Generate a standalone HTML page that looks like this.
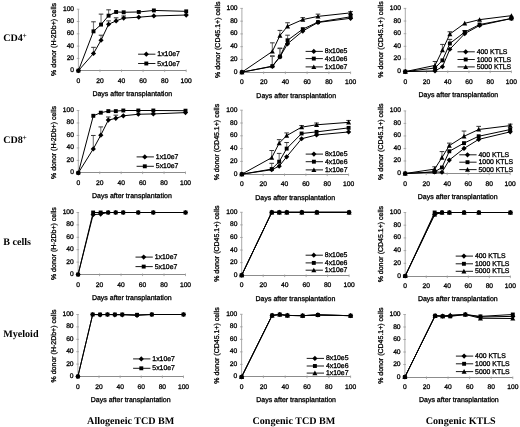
<!DOCTYPE html>
<html><head><meta charset="utf-8"><style>
html,body{margin:0;padding:0;background:#fff;width:520px;height:427px;overflow:hidden}
svg{display:block;text-rendering:geometricPrecision;filter:grayscale(1) blur(0.4px)}
.t{font-family:"Liberation Sans", sans-serif;font-size:6.7px;fill:#000;stroke:#000;stroke-width:0.3px}
.xl{font-family:"Liberation Sans", sans-serif;font-size:7px;fill:#000;stroke:#000;stroke-width:0.3px}
.lg{font-family:"Liberation Sans", sans-serif;font-size:6.9px;fill:#000;stroke:#000;stroke-width:0.3px}
.rl{font-family:"Liberation Serif", serif;font-size:10.1px;font-weight:bold;fill:#000}
</style></head><body>
<svg width="520" height="427" viewBox="0 0 520 427">
<rect width="520" height="427" fill="#fff"/>
<g><line x1="78.40" y1="9.20" x2="78.40" y2="70.70" stroke="#a2a2a2" stroke-width="0.9"/><line x1="78.40" y1="70.50" x2="186.20" y2="70.50" stroke="#8c8c8c" stroke-width="1.0"/><line x1="76.80" y1="70.70" x2="79.40" y2="70.70" stroke="#999" stroke-width="0.8"/><text x="74.10" y="72.20" text-anchor="end" class="t">0</text><line x1="76.80" y1="58.40" x2="79.40" y2="58.40" stroke="#999" stroke-width="0.8"/><text x="74.10" y="59.90" text-anchor="end" class="t">20</text><line x1="76.80" y1="46.10" x2="79.40" y2="46.10" stroke="#999" stroke-width="0.8"/><text x="74.10" y="47.60" text-anchor="end" class="t">40</text><line x1="76.80" y1="33.80" x2="79.40" y2="33.80" stroke="#999" stroke-width="0.8"/><text x="74.10" y="35.30" text-anchor="end" class="t">60</text><line x1="76.80" y1="21.50" x2="79.40" y2="21.50" stroke="#999" stroke-width="0.8"/><text x="74.10" y="23.00" text-anchor="end" class="t">80</text><line x1="76.80" y1="9.20" x2="79.40" y2="9.20" stroke="#999" stroke-width="0.8"/><text x="74.10" y="10.70" text-anchor="end" class="t">100</text><line x1="78.40" y1="69.50" x2="78.40" y2="72.10" stroke="#999" stroke-width="0.8"/><text x="78.40" y="82.80" text-anchor="middle" class="t">0</text><line x1="99.96" y1="69.50" x2="99.96" y2="72.10" stroke="#999" stroke-width="0.8"/><text x="99.96" y="82.80" text-anchor="middle" class="t">20</text><line x1="121.52" y1="69.50" x2="121.52" y2="72.10" stroke="#999" stroke-width="0.8"/><text x="121.52" y="82.80" text-anchor="middle" class="t">40</text><line x1="143.08" y1="69.50" x2="143.08" y2="72.10" stroke="#999" stroke-width="0.8"/><text x="143.08" y="82.80" text-anchor="middle" class="t">60</text><line x1="164.64" y1="69.50" x2="164.64" y2="72.10" stroke="#999" stroke-width="0.8"/><text x="164.64" y="82.80" text-anchor="middle" class="t">80</text><line x1="186.20" y1="69.50" x2="186.20" y2="72.10" stroke="#999" stroke-width="0.8"/><text x="186.20" y="82.80" text-anchor="middle" class="t">100</text><text x="132.30" y="96.10" text-anchor="middle" class="xl">Days after transplantation</text><text transform="translate(56.00,39.45) rotate(-90)" text-anchor="middle" class="xl">% donor (H-2Db+) cells</text><line x1="93.49" y1="53.48" x2="93.49" y2="47.33" stroke="#7a7a7a" stroke-width="1.15"/><line x1="91.19" y1="47.33" x2="95.79" y2="47.33" stroke="#333" stroke-width="1.0"/><line x1="101.04" y1="40.26" x2="101.04" y2="35.21" stroke="#7a7a7a" stroke-width="1.15"/><line x1="98.74" y1="35.21" x2="103.34" y2="35.21" stroke="#333" stroke-width="1.0"/><line x1="108.58" y1="24.27" x2="108.58" y2="20.89" stroke="#7a7a7a" stroke-width="1.15"/><line x1="106.28" y1="20.89" x2="110.88" y2="20.89" stroke="#333" stroke-width="1.0"/><line x1="116.13" y1="20.89" x2="116.13" y2="17.81" stroke="#7a7a7a" stroke-width="1.15"/><line x1="113.83" y1="17.81" x2="118.43" y2="17.81" stroke="#333" stroke-width="1.0"/><line x1="123.68" y1="18.12" x2="123.68" y2="15.97" stroke="#7a7a7a" stroke-width="1.15"/><line x1="121.38" y1="15.97" x2="125.98" y2="15.97" stroke="#333" stroke-width="1.0"/><polyline points="78.40,70.70 93.49,53.48 101.04,40.26 108.58,24.27 116.13,20.89 123.68,18.12 138.77,17.20 153.86,15.97 186.20,15.04" fill="none" stroke="#000" stroke-width="1.0"/><path d="M78.40 68.10L81.00 70.70L78.40 73.30L75.80 70.70Z" fill="#000"/><path d="M93.49 50.88L96.09 53.48L93.49 56.08L90.89 53.48Z" fill="#000"/><path d="M101.04 37.66L103.64 40.26L101.04 42.86L98.44 40.26Z" fill="#000"/><path d="M108.58 21.67L111.18 24.27L108.58 26.87L105.98 24.27Z" fill="#000"/><path d="M116.13 18.29L118.73 20.89L116.13 23.49L113.53 20.89Z" fill="#000"/><path d="M123.68 15.52L126.28 18.12L123.68 20.72L121.08 18.12Z" fill="#000"/><path d="M138.77 14.60L141.37 17.20L138.77 19.80L136.17 17.20Z" fill="#000"/><path d="M153.86 13.37L156.46 15.97L153.86 18.57L151.26 15.97Z" fill="#000"/><path d="M186.20 12.44L188.80 15.04L186.20 17.64L183.60 15.04Z" fill="#000"/><line x1="93.49" y1="31.34" x2="93.49" y2="21.81" stroke="#7a7a7a" stroke-width="1.15"/><line x1="91.19" y1="21.81" x2="95.79" y2="21.81" stroke="#333" stroke-width="1.0"/><line x1="101.04" y1="24.58" x2="101.04" y2="14.12" stroke="#7a7a7a" stroke-width="1.15"/><line x1="98.74" y1="14.12" x2="103.34" y2="14.12" stroke="#333" stroke-width="1.0"/><line x1="108.58" y1="15.66" x2="108.58" y2="9.82" stroke="#7a7a7a" stroke-width="1.15"/><line x1="106.28" y1="9.82" x2="110.88" y2="9.82" stroke="#333" stroke-width="1.0"/><polyline points="78.40,70.70 93.49,31.34 101.04,24.58 108.58,15.66 116.13,11.97 123.68,12.28 138.77,11.97 153.86,10.43 186.20,11.35" fill="none" stroke="#000" stroke-width="1.0"/><rect x="76.45" y="68.75" width="3.90" height="3.90" fill="#000"/><rect x="91.54" y="29.39" width="3.90" height="3.90" fill="#000"/><rect x="99.09" y="22.63" width="3.90" height="3.90" fill="#000"/><rect x="106.63" y="13.71" width="3.90" height="3.90" fill="#000"/><rect x="114.18" y="10.02" width="3.90" height="3.90" fill="#000"/><rect x="121.73" y="10.33" width="3.90" height="3.90" fill="#000"/><rect x="136.82" y="10.02" width="3.90" height="3.90" fill="#000"/><rect x="151.91" y="8.48" width="3.90" height="3.90" fill="#000"/><rect x="184.25" y="9.40" width="3.90" height="3.90" fill="#000"/><line x1="138.10" y1="54.20" x2="155.40" y2="54.20" stroke="#000" stroke-width="0.9"/><path d="M146.30 51.60L148.90 54.20L146.30 56.80L143.70 54.20Z" fill="#000"/><text x="157.30" y="56.20" class="lg">1x10e7</text><line x1="138.10" y1="63.50" x2="155.40" y2="63.50" stroke="#000" stroke-width="0.9"/><rect x="144.35" y="61.55" width="3.90" height="3.90" fill="#000"/><text x="157.30" y="65.50" class="lg">5x10e7</text></g>
<g><line x1="78.30" y1="110.50" x2="78.30" y2="172.90" stroke="#a2a2a2" stroke-width="0.9"/><line x1="78.30" y1="172.50" x2="185.50" y2="172.50" stroke="#8c8c8c" stroke-width="1.0"/><line x1="76.70" y1="172.90" x2="79.30" y2="172.90" stroke="#999" stroke-width="0.8"/><text x="74.00" y="174.40" text-anchor="end" class="t">0</text><line x1="76.70" y1="160.42" x2="79.30" y2="160.42" stroke="#999" stroke-width="0.8"/><text x="74.00" y="161.92" text-anchor="end" class="t">20</text><line x1="76.70" y1="147.94" x2="79.30" y2="147.94" stroke="#999" stroke-width="0.8"/><text x="74.00" y="149.44" text-anchor="end" class="t">40</text><line x1="76.70" y1="135.46" x2="79.30" y2="135.46" stroke="#999" stroke-width="0.8"/><text x="74.00" y="136.96" text-anchor="end" class="t">60</text><line x1="76.70" y1="122.98" x2="79.30" y2="122.98" stroke="#999" stroke-width="0.8"/><text x="74.00" y="124.48" text-anchor="end" class="t">80</text><line x1="76.70" y1="110.50" x2="79.30" y2="110.50" stroke="#999" stroke-width="0.8"/><text x="74.00" y="112.00" text-anchor="end" class="t">100</text><line x1="78.30" y1="171.50" x2="78.30" y2="174.10" stroke="#999" stroke-width="0.8"/><text x="78.30" y="185.00" text-anchor="middle" class="t">0</text><line x1="99.74" y1="171.50" x2="99.74" y2="174.10" stroke="#999" stroke-width="0.8"/><text x="99.74" y="185.00" text-anchor="middle" class="t">20</text><line x1="121.18" y1="171.50" x2="121.18" y2="174.10" stroke="#999" stroke-width="0.8"/><text x="121.18" y="185.00" text-anchor="middle" class="t">40</text><line x1="142.62" y1="171.50" x2="142.62" y2="174.10" stroke="#999" stroke-width="0.8"/><text x="142.62" y="185.00" text-anchor="middle" class="t">60</text><line x1="164.06" y1="171.50" x2="164.06" y2="174.10" stroke="#999" stroke-width="0.8"/><text x="164.06" y="185.00" text-anchor="middle" class="t">80</text><line x1="185.50" y1="171.50" x2="185.50" y2="174.10" stroke="#999" stroke-width="0.8"/><text x="185.50" y="185.00" text-anchor="middle" class="t">100</text><text x="131.90" y="198.30" text-anchor="middle" class="xl">Days after transplantation</text><text transform="translate(55.90,142.50) rotate(-90)" text-anchor="middle" class="xl">% donor (H-2Db+) cells</text><line x1="93.31" y1="148.88" x2="93.31" y2="135.46" stroke="#7a7a7a" stroke-width="1.15"/><line x1="91.01" y1="135.46" x2="95.61" y2="135.46" stroke="#333" stroke-width="1.0"/><line x1="100.81" y1="135.15" x2="100.81" y2="126.91" stroke="#7a7a7a" stroke-width="1.15"/><line x1="98.51" y1="126.91" x2="103.11" y2="126.91" stroke="#333" stroke-width="1.0"/><line x1="108.32" y1="120.11" x2="108.32" y2="116.99" stroke="#7a7a7a" stroke-width="1.15"/><line x1="106.02" y1="116.99" x2="110.62" y2="116.99" stroke="#333" stroke-width="1.0"/><line x1="115.82" y1="118.30" x2="115.82" y2="115.18" stroke="#7a7a7a" stroke-width="1.15"/><line x1="113.52" y1="115.18" x2="118.12" y2="115.18" stroke="#333" stroke-width="1.0"/><polyline points="78.30,172.90 93.31,148.88 100.81,135.15 108.32,120.11 115.82,118.30 123.32,115.80 138.33,114.24 153.34,113.93 185.50,112.62" fill="none" stroke="#000" stroke-width="1.0"/><path d="M78.30 170.30L80.90 172.90L78.30 175.50L75.70 172.90Z" fill="#000"/><path d="M93.31 146.28L95.91 148.88L93.31 151.48L90.71 148.88Z" fill="#000"/><path d="M100.81 132.55L103.41 135.15L100.81 137.75L98.21 135.15Z" fill="#000"/><path d="M108.32 117.51L110.92 120.11L108.32 122.71L105.72 120.11Z" fill="#000"/><path d="M115.82 115.70L118.42 118.30L115.82 120.90L113.22 118.30Z" fill="#000"/><path d="M123.32 113.20L125.92 115.80L123.32 118.40L120.72 115.80Z" fill="#000"/><path d="M138.33 111.64L140.93 114.24L138.33 116.84L135.73 114.24Z" fill="#000"/><path d="M153.34 111.33L155.94 113.93L153.34 116.53L150.74 113.93Z" fill="#000"/><path d="M185.50 110.02L188.10 112.62L185.50 115.22L182.90 112.62Z" fill="#000"/><polyline points="78.30,172.90 93.31,115.80 100.81,112.68 108.32,111.12 115.82,111.12 123.32,110.50 138.33,110.50 153.34,110.50 185.50,110.69" fill="none" stroke="#000" stroke-width="1.0"/><rect x="76.35" y="170.95" width="3.90" height="3.90" fill="#000"/><rect x="91.36" y="113.85" width="3.90" height="3.90" fill="#000"/><rect x="98.86" y="110.73" width="3.90" height="3.90" fill="#000"/><rect x="106.37" y="109.17" width="3.90" height="3.90" fill="#000"/><rect x="113.87" y="109.17" width="3.90" height="3.90" fill="#000"/><rect x="121.37" y="108.55" width="3.90" height="3.90" fill="#000"/><rect x="136.38" y="108.55" width="3.90" height="3.90" fill="#000"/><rect x="151.39" y="108.55" width="3.90" height="3.90" fill="#000"/><rect x="183.55" y="108.74" width="3.90" height="3.90" fill="#000"/><line x1="136.60" y1="156.90" x2="153.90" y2="156.90" stroke="#000" stroke-width="0.9"/><path d="M144.80 154.30L147.40 156.90L144.80 159.50L142.20 156.90Z" fill="#000"/><text x="155.80" y="158.90" class="lg">1x10e7</text><line x1="136.60" y1="166.30" x2="153.90" y2="166.30" stroke="#000" stroke-width="0.9"/><rect x="142.85" y="164.35" width="3.90" height="3.90" fill="#000"/><text x="155.80" y="168.30" class="lg">5x10e7</text></g>
<g><line x1="78.10" y1="212.50" x2="78.10" y2="274.50" stroke="#a2a2a2" stroke-width="0.9"/><line x1="78.10" y1="274.50" x2="185.50" y2="274.50" stroke="#8c8c8c" stroke-width="1.0"/><line x1="76.50" y1="274.50" x2="79.10" y2="274.50" stroke="#999" stroke-width="0.8"/><text x="73.80" y="276.00" text-anchor="end" class="t">0</text><line x1="76.50" y1="262.10" x2="79.10" y2="262.10" stroke="#999" stroke-width="0.8"/><text x="73.80" y="263.60" text-anchor="end" class="t">20</text><line x1="76.50" y1="249.70" x2="79.10" y2="249.70" stroke="#999" stroke-width="0.8"/><text x="73.80" y="251.20" text-anchor="end" class="t">40</text><line x1="76.50" y1="237.30" x2="79.10" y2="237.30" stroke="#999" stroke-width="0.8"/><text x="73.80" y="238.80" text-anchor="end" class="t">60</text><line x1="76.50" y1="224.90" x2="79.10" y2="224.90" stroke="#999" stroke-width="0.8"/><text x="73.80" y="226.40" text-anchor="end" class="t">80</text><line x1="76.50" y1="212.50" x2="79.10" y2="212.50" stroke="#999" stroke-width="0.8"/><text x="73.80" y="214.00" text-anchor="end" class="t">100</text><line x1="78.10" y1="273.50" x2="78.10" y2="276.10" stroke="#999" stroke-width="0.8"/><text x="78.10" y="286.60" text-anchor="middle" class="t">0</text><line x1="99.58" y1="273.50" x2="99.58" y2="276.10" stroke="#999" stroke-width="0.8"/><text x="99.58" y="286.60" text-anchor="middle" class="t">20</text><line x1="121.06" y1="273.50" x2="121.06" y2="276.10" stroke="#999" stroke-width="0.8"/><text x="121.06" y="286.60" text-anchor="middle" class="t">40</text><line x1="142.54" y1="273.50" x2="142.54" y2="276.10" stroke="#999" stroke-width="0.8"/><text x="142.54" y="286.60" text-anchor="middle" class="t">60</text><line x1="164.02" y1="273.50" x2="164.02" y2="276.10" stroke="#999" stroke-width="0.8"/><text x="164.02" y="286.60" text-anchor="middle" class="t">80</text><line x1="185.50" y1="273.50" x2="185.50" y2="276.10" stroke="#999" stroke-width="0.8"/><text x="185.50" y="286.60" text-anchor="middle" class="t">100</text><text x="131.80" y="299.90" text-anchor="middle" class="xl">Days after transplantation</text><text transform="translate(55.70,243.60) rotate(-90)" text-anchor="middle" class="xl">% donor (H-2Db+) cells</text><polyline points="78.10,274.50 93.14,214.67 100.65,214.05 108.17,212.50 115.69,212.50 123.21,212.50 138.24,212.50 153.28,212.50 185.50,212.50" fill="none" stroke="#000" stroke-width="1.0"/><path d="M78.10 271.90L80.70 274.50L78.10 277.10L75.50 274.50Z" fill="#000"/><path d="M93.14 212.07L95.74 214.67L93.14 217.27L90.54 214.67Z" fill="#000"/><path d="M100.65 211.45L103.25 214.05L100.65 216.65L98.05 214.05Z" fill="#000"/><path d="M108.17 209.90L110.77 212.50L108.17 215.10L105.57 212.50Z" fill="#000"/><path d="M115.69 209.90L118.29 212.50L115.69 215.10L113.09 212.50Z" fill="#000"/><path d="M123.21 209.90L125.81 212.50L123.21 215.10L120.61 212.50Z" fill="#000"/><path d="M138.24 209.90L140.84 212.50L138.24 215.10L135.64 212.50Z" fill="#000"/><path d="M153.28 209.90L155.88 212.50L153.28 215.10L150.68 212.50Z" fill="#000"/><path d="M185.50 209.90L188.10 212.50L185.50 215.10L182.90 212.50Z" fill="#000"/><polyline points="78.10,274.50 93.14,212.50 100.65,212.50 108.17,212.50 115.69,212.50 123.21,212.50 138.24,212.50 153.28,212.50 185.50,212.50" fill="none" stroke="#000" stroke-width="1.0"/><rect x="76.15" y="272.55" width="3.90" height="3.90" fill="#000"/><rect x="91.19" y="210.55" width="3.90" height="3.90" fill="#000"/><rect x="98.70" y="210.55" width="3.90" height="3.90" fill="#000"/><rect x="106.22" y="210.55" width="3.90" height="3.90" fill="#000"/><rect x="113.74" y="210.55" width="3.90" height="3.90" fill="#000"/><rect x="121.26" y="210.55" width="3.90" height="3.90" fill="#000"/><rect x="136.29" y="210.55" width="3.90" height="3.90" fill="#000"/><rect x="151.33" y="210.55" width="3.90" height="3.90" fill="#000"/><rect x="183.55" y="210.55" width="3.90" height="3.90" fill="#000"/><line x1="135.50" y1="257.10" x2="152.80" y2="257.10" stroke="#000" stroke-width="0.9"/><path d="M143.70 254.50L146.30 257.10L143.70 259.70L141.10 257.10Z" fill="#000"/><text x="154.70" y="259.10" class="lg">1x10e7</text><line x1="135.50" y1="266.60" x2="152.80" y2="266.60" stroke="#000" stroke-width="0.9"/><rect x="141.75" y="264.65" width="3.90" height="3.90" fill="#000"/><text x="154.70" y="268.60" class="lg">5x10e7</text></g>
<g><line x1="77.90" y1="314.50" x2="77.90" y2="376.50" stroke="#a2a2a2" stroke-width="0.9"/><line x1="77.90" y1="376.50" x2="183.50" y2="376.50" stroke="#8c8c8c" stroke-width="1.0"/><line x1="76.30" y1="376.50" x2="78.90" y2="376.50" stroke="#999" stroke-width="0.8"/><text x="73.60" y="378.00" text-anchor="end" class="t">0</text><line x1="76.30" y1="364.10" x2="78.90" y2="364.10" stroke="#999" stroke-width="0.8"/><text x="73.60" y="365.60" text-anchor="end" class="t">20</text><line x1="76.30" y1="351.70" x2="78.90" y2="351.70" stroke="#999" stroke-width="0.8"/><text x="73.60" y="353.20" text-anchor="end" class="t">40</text><line x1="76.30" y1="339.30" x2="78.90" y2="339.30" stroke="#999" stroke-width="0.8"/><text x="73.60" y="340.80" text-anchor="end" class="t">60</text><line x1="76.30" y1="326.90" x2="78.90" y2="326.90" stroke="#999" stroke-width="0.8"/><text x="73.60" y="328.40" text-anchor="end" class="t">80</text><line x1="76.30" y1="314.50" x2="78.90" y2="314.50" stroke="#999" stroke-width="0.8"/><text x="73.60" y="316.00" text-anchor="end" class="t">100</text><line x1="77.90" y1="375.50" x2="77.90" y2="378.10" stroke="#999" stroke-width="0.8"/><text x="77.90" y="388.60" text-anchor="middle" class="t">0</text><line x1="99.02" y1="375.50" x2="99.02" y2="378.10" stroke="#999" stroke-width="0.8"/><text x="99.02" y="388.60" text-anchor="middle" class="t">20</text><line x1="120.14" y1="375.50" x2="120.14" y2="378.10" stroke="#999" stroke-width="0.8"/><text x="120.14" y="388.60" text-anchor="middle" class="t">40</text><line x1="141.26" y1="375.50" x2="141.26" y2="378.10" stroke="#999" stroke-width="0.8"/><text x="141.26" y="388.60" text-anchor="middle" class="t">60</text><line x1="162.38" y1="375.50" x2="162.38" y2="378.10" stroke="#999" stroke-width="0.8"/><text x="162.38" y="388.60" text-anchor="middle" class="t">80</text><line x1="183.50" y1="375.50" x2="183.50" y2="378.10" stroke="#999" stroke-width="0.8"/><text x="183.50" y="388.60" text-anchor="middle" class="t">100</text><text x="130.70" y="401.90" text-anchor="middle" class="xl">Days after transplantation</text><text transform="translate(55.50,346.00) rotate(-90)" text-anchor="middle" class="xl">% donor (H-2Db+) cells</text><polyline points="77.90,376.50 92.68,314.50 100.08,314.81 107.47,314.50 114.86,314.81 122.25,314.81 137.04,315.43 151.82,314.50 183.50,314.50" fill="none" stroke="#000" stroke-width="1.0"/><path d="M77.90 373.90L80.50 376.50L77.90 379.10L75.30 376.50Z" fill="#000"/><path d="M92.68 311.90L95.28 314.50L92.68 317.10L90.08 314.50Z" fill="#000"/><path d="M100.08 312.21L102.68 314.81L100.08 317.41L97.48 314.81Z" fill="#000"/><path d="M107.47 311.90L110.07 314.50L107.47 317.10L104.87 314.50Z" fill="#000"/><path d="M114.86 312.21L117.46 314.81L114.86 317.41L112.26 314.81Z" fill="#000"/><path d="M122.25 312.21L124.85 314.81L122.25 317.41L119.65 314.81Z" fill="#000"/><path d="M137.04 312.83L139.64 315.43L137.04 318.03L134.44 315.43Z" fill="#000"/><path d="M151.82 311.90L154.42 314.50L151.82 317.10L149.22 314.50Z" fill="#000"/><path d="M183.50 311.90L186.10 314.50L183.50 317.10L180.90 314.50Z" fill="#000"/><polyline points="77.90,376.50 92.68,314.50 100.08,314.50 107.47,314.50 114.86,314.50 122.25,314.50 137.04,314.81 151.82,314.50 183.50,314.50" fill="none" stroke="#000" stroke-width="1.0"/><rect x="75.95" y="374.55" width="3.90" height="3.90" fill="#000"/><rect x="90.73" y="312.55" width="3.90" height="3.90" fill="#000"/><rect x="98.13" y="312.55" width="3.90" height="3.90" fill="#000"/><rect x="105.52" y="312.55" width="3.90" height="3.90" fill="#000"/><rect x="112.91" y="312.55" width="3.90" height="3.90" fill="#000"/><rect x="120.30" y="312.55" width="3.90" height="3.90" fill="#000"/><rect x="135.09" y="312.86" width="3.90" height="3.90" fill="#000"/><rect x="149.87" y="312.55" width="3.90" height="3.90" fill="#000"/><rect x="181.55" y="312.55" width="3.90" height="3.90" fill="#000"/><line x1="133.10" y1="358.90" x2="150.40" y2="358.90" stroke="#000" stroke-width="0.9"/><path d="M141.30 356.30L143.90 358.90L141.30 361.50L138.70 358.90Z" fill="#000"/><text x="152.30" y="360.90" class="lg">1x10e7</text><line x1="133.10" y1="368.30" x2="150.40" y2="368.30" stroke="#000" stroke-width="0.9"/><rect x="139.35" y="366.35" width="3.90" height="3.90" fill="#000"/><text x="152.30" y="370.30" class="lg">5x10e7</text></g>
<g><line x1="241.90" y1="8.40" x2="241.90" y2="72.20" stroke="#a2a2a2" stroke-width="0.9"/><line x1="241.90" y1="72.50" x2="350.60" y2="72.50" stroke="#8c8c8c" stroke-width="1.0"/><line x1="240.30" y1="72.20" x2="242.90" y2="72.20" stroke="#999" stroke-width="0.8"/><text x="237.60" y="73.70" text-anchor="end" class="t">0</text><line x1="240.30" y1="59.44" x2="242.90" y2="59.44" stroke="#999" stroke-width="0.8"/><text x="237.60" y="60.94" text-anchor="end" class="t">20</text><line x1="240.30" y1="46.68" x2="242.90" y2="46.68" stroke="#999" stroke-width="0.8"/><text x="237.60" y="48.18" text-anchor="end" class="t">40</text><line x1="240.30" y1="33.92" x2="242.90" y2="33.92" stroke="#999" stroke-width="0.8"/><text x="237.60" y="35.42" text-anchor="end" class="t">60</text><line x1="240.30" y1="21.16" x2="242.90" y2="21.16" stroke="#999" stroke-width="0.8"/><text x="237.60" y="22.66" text-anchor="end" class="t">80</text><line x1="240.30" y1="8.40" x2="242.90" y2="8.40" stroke="#999" stroke-width="0.8"/><text x="237.60" y="9.90" text-anchor="end" class="t">100</text><line x1="241.90" y1="71.50" x2="241.90" y2="74.10" stroke="#999" stroke-width="0.8"/><text x="241.90" y="84.30" text-anchor="middle" class="t">0</text><line x1="263.64" y1="71.50" x2="263.64" y2="74.10" stroke="#999" stroke-width="0.8"/><text x="263.64" y="84.30" text-anchor="middle" class="t">20</text><line x1="285.38" y1="71.50" x2="285.38" y2="74.10" stroke="#999" stroke-width="0.8"/><text x="285.38" y="84.30" text-anchor="middle" class="t">40</text><line x1="307.12" y1="71.50" x2="307.12" y2="74.10" stroke="#999" stroke-width="0.8"/><text x="307.12" y="84.30" text-anchor="middle" class="t">60</text><line x1="328.86" y1="71.50" x2="328.86" y2="74.10" stroke="#999" stroke-width="0.8"/><text x="328.86" y="84.30" text-anchor="middle" class="t">80</text><line x1="350.60" y1="71.50" x2="350.60" y2="74.10" stroke="#999" stroke-width="0.8"/><text x="350.60" y="84.30" text-anchor="middle" class="t">100</text><text x="296.25" y="97.60" text-anchor="middle" class="xl">Days after transplantation</text><text transform="translate(219.50,39.80) rotate(-90)" text-anchor="middle" class="xl">% donor (CD45.1+) cells</text><line x1="272.34" y1="66.46" x2="272.34" y2="56.25" stroke="#7a7a7a" stroke-width="1.15"/><line x1="270.04" y1="56.25" x2="274.64" y2="56.25" stroke="#333" stroke-width="1.0"/><line x1="279.94" y1="56.89" x2="279.94" y2="48.59" stroke="#7a7a7a" stroke-width="1.15"/><line x1="277.64" y1="48.59" x2="282.25" y2="48.59" stroke="#333" stroke-width="1.0"/><polyline points="241.90,72.20 272.34,66.46 279.94,56.89 287.55,43.81 302.77,31.05 317.99,22.44 350.60,18.29" fill="none" stroke="#000" stroke-width="1.0"/><path d="M241.90 69.60L244.50 72.20L241.90 74.80L239.30 72.20Z" fill="#000"/><path d="M272.34 63.86L274.94 66.46L272.34 69.06L269.74 66.46Z" fill="#000"/><path d="M279.94 54.29L282.55 56.89L279.94 59.49L277.34 56.89Z" fill="#000"/><path d="M287.55 41.21L290.15 43.81L287.55 46.41L284.95 43.81Z" fill="#000"/><path d="M302.77 28.45L305.37 31.05L302.77 33.65L300.17 31.05Z" fill="#000"/><path d="M317.99 19.84L320.59 22.44L317.99 25.04L315.39 22.44Z" fill="#000"/><path d="M350.60 15.69L353.20 18.29L350.60 20.89L348.00 18.29Z" fill="#000"/><line x1="272.34" y1="66.14" x2="272.34" y2="55.93" stroke="#7a7a7a" stroke-width="1.15"/><line x1="270.04" y1="55.93" x2="274.64" y2="55.93" stroke="#333" stroke-width="1.0"/><line x1="279.94" y1="56.57" x2="279.94" y2="48.08" stroke="#7a7a7a" stroke-width="1.15"/><line x1="277.64" y1="48.08" x2="282.25" y2="48.08" stroke="#333" stroke-width="1.0"/><line x1="287.55" y1="40.30" x2="287.55" y2="35.20" stroke="#7a7a7a" stroke-width="1.15"/><line x1="285.25" y1="35.20" x2="289.85" y2="35.20" stroke="#333" stroke-width="1.0"/><polyline points="241.90,72.20 272.34,66.14 279.94,56.57 287.55,40.30 302.77,29.14 317.99,22.12 350.60,16.82" fill="none" stroke="#000" stroke-width="1.0"/><rect x="239.95" y="70.25" width="3.90" height="3.90" fill="#000"/><rect x="270.39" y="64.19" width="3.90" height="3.90" fill="#000"/><rect x="278.00" y="54.62" width="3.90" height="3.90" fill="#000"/><rect x="285.60" y="38.35" width="3.90" height="3.90" fill="#000"/><rect x="300.82" y="27.19" width="3.90" height="3.90" fill="#000"/><rect x="316.04" y="20.17" width="3.90" height="3.90" fill="#000"/><rect x="348.65" y="14.87" width="3.90" height="3.90" fill="#000"/><line x1="272.34" y1="51.47" x2="272.34" y2="42.85" stroke="#7a7a7a" stroke-width="1.15"/><line x1="270.04" y1="42.85" x2="274.64" y2="42.85" stroke="#333" stroke-width="1.0"/><line x1="279.94" y1="35.52" x2="279.94" y2="30.41" stroke="#7a7a7a" stroke-width="1.15"/><line x1="277.64" y1="30.41" x2="282.25" y2="30.41" stroke="#333" stroke-width="1.0"/><line x1="287.55" y1="26.26" x2="287.55" y2="22.76" stroke="#7a7a7a" stroke-width="1.15"/><line x1="285.25" y1="22.76" x2="289.85" y2="22.76" stroke="#333" stroke-width="1.0"/><line x1="302.77" y1="19.57" x2="302.77" y2="17.65" stroke="#7a7a7a" stroke-width="1.15"/><line x1="300.47" y1="17.65" x2="305.07" y2="17.65" stroke="#333" stroke-width="1.0"/><line x1="317.99" y1="16.38" x2="317.99" y2="14.14" stroke="#7a7a7a" stroke-width="1.15"/><line x1="315.69" y1="14.14" x2="320.29" y2="14.14" stroke="#333" stroke-width="1.0"/><line x1="350.60" y1="12.87" x2="350.60" y2="11.59" stroke="#7a7a7a" stroke-width="1.15"/><line x1="348.30" y1="11.59" x2="352.90" y2="11.59" stroke="#333" stroke-width="1.0"/><polyline points="241.90,72.20 272.34,51.47 279.94,35.52 287.55,26.26 302.77,19.57 317.99,16.38 350.60,12.87" fill="none" stroke="#000" stroke-width="1.0"/><path d="M241.90 69.70L244.40 74.33L239.40 74.33Z" fill="#000"/><path d="M272.34 48.97L274.84 53.59L269.84 53.59Z" fill="#000"/><path d="M279.94 33.02L282.44 37.64L277.44 37.64Z" fill="#000"/><path d="M287.55 23.76L290.05 28.39L285.05 28.39Z" fill="#000"/><path d="M302.77 17.07L305.27 21.69L300.27 21.69Z" fill="#000"/><path d="M317.99 13.88L320.49 18.50L315.49 18.50Z" fill="#000"/><path d="M350.60 10.37L353.10 14.99L348.10 14.99Z" fill="#000"/><line x1="305.60" y1="51.40" x2="322.90" y2="51.40" stroke="#000" stroke-width="0.9"/><path d="M313.80 48.80L316.40 51.40L313.80 54.00L311.20 51.40Z" fill="#000"/><text x="324.80" y="53.40" class="lg">8x10e5</text><line x1="305.60" y1="58.60" x2="322.90" y2="58.60" stroke="#000" stroke-width="0.9"/><rect x="311.85" y="56.65" width="3.90" height="3.90" fill="#000"/><text x="324.80" y="60.60" class="lg">4x10e6</text><line x1="305.60" y1="66.90" x2="322.90" y2="66.90" stroke="#000" stroke-width="0.9"/><path d="M313.80 64.40L316.30 69.03L311.30 69.03Z" fill="#000"/><text x="324.80" y="68.90" class="lg">1x10e7</text></g>
<g><line x1="241.80" y1="110.20" x2="241.80" y2="174.20" stroke="#a2a2a2" stroke-width="0.9"/><line x1="241.80" y1="174.50" x2="348.60" y2="174.50" stroke="#8c8c8c" stroke-width="1.0"/><line x1="240.20" y1="174.20" x2="242.80" y2="174.20" stroke="#999" stroke-width="0.8"/><text x="237.50" y="175.70" text-anchor="end" class="t">0</text><line x1="240.20" y1="161.40" x2="242.80" y2="161.40" stroke="#999" stroke-width="0.8"/><text x="237.50" y="162.90" text-anchor="end" class="t">20</text><line x1="240.20" y1="148.60" x2="242.80" y2="148.60" stroke="#999" stroke-width="0.8"/><text x="237.50" y="150.10" text-anchor="end" class="t">40</text><line x1="240.20" y1="135.80" x2="242.80" y2="135.80" stroke="#999" stroke-width="0.8"/><text x="237.50" y="137.30" text-anchor="end" class="t">60</text><line x1="240.20" y1="123.00" x2="242.80" y2="123.00" stroke="#999" stroke-width="0.8"/><text x="237.50" y="124.50" text-anchor="end" class="t">80</text><line x1="240.20" y1="110.20" x2="242.80" y2="110.20" stroke="#999" stroke-width="0.8"/><text x="237.50" y="111.70" text-anchor="end" class="t">100</text><line x1="241.80" y1="173.50" x2="241.80" y2="176.10" stroke="#999" stroke-width="0.8"/><text x="241.80" y="186.30" text-anchor="middle" class="t">0</text><line x1="263.16" y1="173.50" x2="263.16" y2="176.10" stroke="#999" stroke-width="0.8"/><text x="263.16" y="186.30" text-anchor="middle" class="t">20</text><line x1="284.52" y1="173.50" x2="284.52" y2="176.10" stroke="#999" stroke-width="0.8"/><text x="284.52" y="186.30" text-anchor="middle" class="t">40</text><line x1="305.88" y1="173.50" x2="305.88" y2="176.10" stroke="#999" stroke-width="0.8"/><text x="305.88" y="186.30" text-anchor="middle" class="t">60</text><line x1="327.24" y1="173.50" x2="327.24" y2="176.10" stroke="#999" stroke-width="0.8"/><text x="327.24" y="186.30" text-anchor="middle" class="t">80</text><line x1="348.60" y1="173.50" x2="348.60" y2="176.10" stroke="#999" stroke-width="0.8"/><text x="348.60" y="186.30" text-anchor="middle" class="t">100</text><text x="295.20" y="199.60" text-anchor="middle" class="xl">Days after transplantation</text><text transform="translate(219.40,142.10) rotate(-90)" text-anchor="middle" class="xl">% donor (CD45.1+) cells</text><polyline points="241.80,174.20 271.70,169.72 279.18,166.14 286.66,156.79 301.61,138.74 316.56,134.97 348.60,131.96" fill="none" stroke="#000" stroke-width="1.0"/><path d="M241.80 171.60L244.40 174.20L241.80 176.80L239.20 174.20Z" fill="#000"/><path d="M271.70 167.12L274.30 169.72L271.70 172.32L269.10 169.72Z" fill="#000"/><path d="M279.18 163.54L281.78 166.14L279.18 168.74L276.58 166.14Z" fill="#000"/><path d="M286.66 154.19L289.26 156.79L286.66 159.39L284.06 156.79Z" fill="#000"/><path d="M301.61 136.14L304.21 138.74L301.61 141.34L299.01 138.74Z" fill="#000"/><path d="M316.56 132.37L319.16 134.97L316.56 137.57L313.96 134.97Z" fill="#000"/><path d="M348.60 129.36L351.20 131.96L348.60 134.56L346.00 131.96Z" fill="#000"/><line x1="271.70" y1="169.08" x2="271.70" y2="163.32" stroke="#7a7a7a" stroke-width="1.15"/><line x1="269.40" y1="163.32" x2="274.00" y2="163.32" stroke="#333" stroke-width="1.0"/><line x1="279.18" y1="161.72" x2="279.18" y2="153.40" stroke="#7a7a7a" stroke-width="1.15"/><line x1="276.88" y1="153.40" x2="281.48" y2="153.40" stroke="#333" stroke-width="1.0"/><line x1="286.66" y1="148.60" x2="286.66" y2="142.52" stroke="#7a7a7a" stroke-width="1.15"/><line x1="284.36" y1="142.52" x2="288.96" y2="142.52" stroke="#333" stroke-width="1.0"/><polyline points="241.80,174.20 271.70,169.08 279.18,161.72 286.66,148.60 301.61,133.50 316.56,131.90 348.60,127.86" fill="none" stroke="#000" stroke-width="1.0"/><rect x="239.85" y="172.25" width="3.90" height="3.90" fill="#000"/><rect x="269.75" y="167.13" width="3.90" height="3.90" fill="#000"/><rect x="277.23" y="159.77" width="3.90" height="3.90" fill="#000"/><rect x="284.71" y="146.65" width="3.90" height="3.90" fill="#000"/><rect x="299.66" y="131.55" width="3.90" height="3.90" fill="#000"/><rect x="314.61" y="129.95" width="3.90" height="3.90" fill="#000"/><rect x="346.65" y="125.91" width="3.90" height="3.90" fill="#000"/><line x1="271.70" y1="157.69" x2="271.70" y2="150.52" stroke="#7a7a7a" stroke-width="1.15"/><line x1="269.40" y1="150.52" x2="274.00" y2="150.52" stroke="#333" stroke-width="1.0"/><line x1="279.18" y1="143.16" x2="279.18" y2="139.64" stroke="#7a7a7a" stroke-width="1.15"/><line x1="276.88" y1="139.64" x2="281.48" y2="139.64" stroke="#333" stroke-width="1.0"/><line x1="286.66" y1="135.61" x2="286.66" y2="132.92" stroke="#7a7a7a" stroke-width="1.15"/><line x1="284.36" y1="132.92" x2="288.96" y2="132.92" stroke="#333" stroke-width="1.0"/><line x1="301.61" y1="127.16" x2="301.61" y2="125.56" stroke="#7a7a7a" stroke-width="1.15"/><line x1="299.31" y1="125.56" x2="303.91" y2="125.56" stroke="#333" stroke-width="1.0"/><line x1="316.56" y1="124.79" x2="316.56" y2="123.00" stroke="#7a7a7a" stroke-width="1.15"/><line x1="314.26" y1="123.00" x2="318.86" y2="123.00" stroke="#333" stroke-width="1.0"/><line x1="348.60" y1="122.36" x2="348.60" y2="120.44" stroke="#7a7a7a" stroke-width="1.15"/><line x1="346.30" y1="120.44" x2="350.90" y2="120.44" stroke="#333" stroke-width="1.0"/><polyline points="241.80,174.20 271.70,157.69 279.18,143.16 286.66,135.61 301.61,127.16 316.56,124.79 348.60,122.36" fill="none" stroke="#000" stroke-width="1.0"/><path d="M241.80 171.70L244.30 176.32L239.30 176.32Z" fill="#000"/><path d="M271.70 155.19L274.20 159.81L269.20 159.81Z" fill="#000"/><path d="M279.18 140.66L281.68 145.28L276.68 145.28Z" fill="#000"/><path d="M286.66 133.11L289.16 137.73L284.16 137.73Z" fill="#000"/><path d="M301.61 124.66L304.11 129.28L299.11 129.28Z" fill="#000"/><path d="M316.56 122.29L319.06 126.92L314.06 126.92Z" fill="#000"/><path d="M348.60 119.86L351.10 124.48L346.10 124.48Z" fill="#000"/><line x1="305.70" y1="154.10" x2="323.00" y2="154.10" stroke="#000" stroke-width="0.9"/><path d="M313.90 151.50L316.50 154.10L313.90 156.70L311.30 154.10Z" fill="#000"/><text x="324.90" y="156.10" class="lg">8x10e5</text><line x1="305.70" y1="161.70" x2="323.00" y2="161.70" stroke="#000" stroke-width="0.9"/><rect x="311.95" y="159.75" width="3.90" height="3.90" fill="#000"/><text x="324.90" y="163.70" class="lg">4x10e6</text><line x1="305.70" y1="169.90" x2="323.00" y2="169.90" stroke="#000" stroke-width="0.9"/><path d="M313.90 167.40L316.40 172.03L311.40 172.03Z" fill="#000"/><text x="324.90" y="171.90" class="lg">1x10e7</text></g>
<g><line x1="241.70" y1="212.30" x2="241.70" y2="275.20" stroke="#a2a2a2" stroke-width="0.9"/><line x1="241.70" y1="275.50" x2="349.10" y2="275.50" stroke="#8c8c8c" stroke-width="1.0"/><line x1="240.10" y1="275.20" x2="242.70" y2="275.20" stroke="#999" stroke-width="0.8"/><text x="237.40" y="276.70" text-anchor="end" class="t">0</text><line x1="240.10" y1="262.62" x2="242.70" y2="262.62" stroke="#999" stroke-width="0.8"/><text x="237.40" y="264.12" text-anchor="end" class="t">20</text><line x1="240.10" y1="250.04" x2="242.70" y2="250.04" stroke="#999" stroke-width="0.8"/><text x="237.40" y="251.54" text-anchor="end" class="t">40</text><line x1="240.10" y1="237.46" x2="242.70" y2="237.46" stroke="#999" stroke-width="0.8"/><text x="237.40" y="238.96" text-anchor="end" class="t">60</text><line x1="240.10" y1="224.88" x2="242.70" y2="224.88" stroke="#999" stroke-width="0.8"/><text x="237.40" y="226.38" text-anchor="end" class="t">80</text><line x1="240.10" y1="212.30" x2="242.70" y2="212.30" stroke="#999" stroke-width="0.8"/><text x="237.40" y="213.80" text-anchor="end" class="t">100</text><line x1="241.70" y1="274.50" x2="241.70" y2="277.10" stroke="#999" stroke-width="0.8"/><text x="241.70" y="287.30" text-anchor="middle" class="t">0</text><line x1="263.18" y1="274.50" x2="263.18" y2="277.10" stroke="#999" stroke-width="0.8"/><text x="263.18" y="287.30" text-anchor="middle" class="t">20</text><line x1="284.66" y1="274.50" x2="284.66" y2="277.10" stroke="#999" stroke-width="0.8"/><text x="284.66" y="287.30" text-anchor="middle" class="t">40</text><line x1="306.14" y1="274.50" x2="306.14" y2="277.10" stroke="#999" stroke-width="0.8"/><text x="306.14" y="287.30" text-anchor="middle" class="t">60</text><line x1="327.62" y1="274.50" x2="327.62" y2="277.10" stroke="#999" stroke-width="0.8"/><text x="327.62" y="287.30" text-anchor="middle" class="t">80</text><line x1="349.10" y1="274.50" x2="349.10" y2="277.10" stroke="#999" stroke-width="0.8"/><text x="349.10" y="287.30" text-anchor="middle" class="t">100</text><text x="295.40" y="300.60" text-anchor="middle" class="xl">Days after transplantation</text><text transform="translate(219.30,243.65) rotate(-90)" text-anchor="middle" class="xl">% donor (CD45.1+) cells</text><polyline points="241.70,275.20 271.77,212.30 279.29,212.30 286.81,212.30 301.84,212.30 316.88,212.30 349.10,212.30" fill="none" stroke="#000" stroke-width="1.0"/><path d="M241.70 272.60L244.30 275.20L241.70 277.80L239.10 275.20Z" fill="#000"/><path d="M271.77 209.70L274.37 212.30L271.77 214.90L269.17 212.30Z" fill="#000"/><path d="M279.29 209.70L281.89 212.30L279.29 214.90L276.69 212.30Z" fill="#000"/><path d="M286.81 209.70L289.41 212.30L286.81 214.90L284.21 212.30Z" fill="#000"/><path d="M301.84 209.70L304.44 212.30L301.84 214.90L299.24 212.30Z" fill="#000"/><path d="M316.88 209.70L319.48 212.30L316.88 214.90L314.28 212.30Z" fill="#000"/><path d="M349.10 209.70L351.70 212.30L349.10 214.90L346.50 212.30Z" fill="#000"/><polyline points="241.70,275.20 271.77,212.30 279.29,212.30 286.81,212.30 301.84,212.30 316.88,212.30 349.10,212.30" fill="none" stroke="#000" stroke-width="1.0"/><rect x="239.75" y="273.25" width="3.90" height="3.90" fill="#000"/><rect x="269.82" y="210.35" width="3.90" height="3.90" fill="#000"/><rect x="277.34" y="210.35" width="3.90" height="3.90" fill="#000"/><rect x="284.86" y="210.35" width="3.90" height="3.90" fill="#000"/><rect x="299.89" y="210.35" width="3.90" height="3.90" fill="#000"/><rect x="314.93" y="210.35" width="3.90" height="3.90" fill="#000"/><rect x="347.15" y="210.35" width="3.90" height="3.90" fill="#000"/><polyline points="241.70,275.20 271.77,212.30 279.29,212.30 286.81,212.30 301.84,212.30 316.88,212.30 349.10,212.30" fill="none" stroke="#000" stroke-width="1.0"/><path d="M241.70 272.70L244.20 277.32L239.20 277.32Z" fill="#000"/><path d="M271.77 209.80L274.27 214.43L269.27 214.43Z" fill="#000"/><path d="M279.29 209.80L281.79 214.43L276.79 214.43Z" fill="#000"/><path d="M286.81 209.80L289.31 214.43L284.31 214.43Z" fill="#000"/><path d="M301.84 209.80L304.34 214.43L299.34 214.43Z" fill="#000"/><path d="M316.88 209.80L319.38 214.43L314.38 214.43Z" fill="#000"/><path d="M349.10 209.80L351.60 214.43L346.60 214.43Z" fill="#000"/><line x1="305.60" y1="255.20" x2="322.90" y2="255.20" stroke="#000" stroke-width="0.9"/><path d="M313.80 252.60L316.40 255.20L313.80 257.80L311.20 255.20Z" fill="#000"/><text x="324.80" y="257.20" class="lg">8x10e5</text><line x1="305.60" y1="262.90" x2="322.90" y2="262.90" stroke="#000" stroke-width="0.9"/><rect x="311.85" y="260.95" width="3.90" height="3.90" fill="#000"/><text x="324.80" y="264.90" class="lg">4x10e6</text><line x1="305.60" y1="270.20" x2="322.90" y2="270.20" stroke="#000" stroke-width="0.9"/><path d="M313.80 267.70L316.30 272.32L311.30 272.32Z" fill="#000"/><text x="324.80" y="272.20" class="lg">1x10e7</text></g>
<g><line x1="241.60" y1="314.30" x2="241.60" y2="376.90" stroke="#a2a2a2" stroke-width="0.9"/><line x1="241.60" y1="376.50" x2="350.60" y2="376.50" stroke="#8c8c8c" stroke-width="1.0"/><line x1="240.00" y1="376.90" x2="242.60" y2="376.90" stroke="#999" stroke-width="0.8"/><text x="237.30" y="378.40" text-anchor="end" class="t">0</text><line x1="240.00" y1="364.38" x2="242.60" y2="364.38" stroke="#999" stroke-width="0.8"/><text x="237.30" y="365.88" text-anchor="end" class="t">20</text><line x1="240.00" y1="351.86" x2="242.60" y2="351.86" stroke="#999" stroke-width="0.8"/><text x="237.30" y="353.36" text-anchor="end" class="t">40</text><line x1="240.00" y1="339.34" x2="242.60" y2="339.34" stroke="#999" stroke-width="0.8"/><text x="237.30" y="340.84" text-anchor="end" class="t">60</text><line x1="240.00" y1="326.82" x2="242.60" y2="326.82" stroke="#999" stroke-width="0.8"/><text x="237.30" y="328.32" text-anchor="end" class="t">80</text><line x1="240.00" y1="314.30" x2="242.60" y2="314.30" stroke="#999" stroke-width="0.8"/><text x="237.30" y="315.80" text-anchor="end" class="t">100</text><line x1="241.60" y1="375.50" x2="241.60" y2="378.10" stroke="#999" stroke-width="0.8"/><text x="241.60" y="389.00" text-anchor="middle" class="t">0</text><line x1="263.40" y1="375.50" x2="263.40" y2="378.10" stroke="#999" stroke-width="0.8"/><text x="263.40" y="389.00" text-anchor="middle" class="t">20</text><line x1="285.20" y1="375.50" x2="285.20" y2="378.10" stroke="#999" stroke-width="0.8"/><text x="285.20" y="389.00" text-anchor="middle" class="t">40</text><line x1="307.00" y1="375.50" x2="307.00" y2="378.10" stroke="#999" stroke-width="0.8"/><text x="307.00" y="389.00" text-anchor="middle" class="t">60</text><line x1="328.80" y1="375.50" x2="328.80" y2="378.10" stroke="#999" stroke-width="0.8"/><text x="328.80" y="389.00" text-anchor="middle" class="t">80</text><line x1="350.60" y1="375.50" x2="350.60" y2="378.10" stroke="#999" stroke-width="0.8"/><text x="350.60" y="389.00" text-anchor="middle" class="t">100</text><text x="296.10" y="402.30" text-anchor="middle" class="xl">Days after transplantation</text><text transform="translate(219.20,345.50) rotate(-90)" text-anchor="middle" class="xl">% donor (CD45.1+) cells</text><polyline points="241.60,376.90 272.12,315.43 279.75,314.49 287.38,315.43 302.64,315.68 317.90,314.93 350.60,315.68" fill="none" stroke="#000" stroke-width="1.0"/><path d="M241.60 374.30L244.20 376.90L241.60 379.50L239.00 376.90Z" fill="#000"/><path d="M272.12 312.83L274.72 315.43L272.12 318.03L269.52 315.43Z" fill="#000"/><path d="M279.75 311.89L282.35 314.49L279.75 317.09L277.15 314.49Z" fill="#000"/><path d="M287.38 312.83L289.98 315.43L287.38 318.03L284.78 315.43Z" fill="#000"/><path d="M302.64 313.08L305.24 315.68L302.64 318.28L300.04 315.68Z" fill="#000"/><path d="M317.90 312.33L320.50 314.93L317.90 317.53L315.30 314.93Z" fill="#000"/><path d="M350.60 313.08L353.20 315.68L350.60 318.28L348.00 315.68Z" fill="#000"/><polyline points="241.60,376.90 272.12,315.43 279.75,314.49 287.38,315.43 302.64,315.68 317.90,314.93 350.60,315.68" fill="none" stroke="#000" stroke-width="1.0"/><rect x="239.65" y="374.95" width="3.90" height="3.90" fill="#000"/><rect x="270.17" y="313.48" width="3.90" height="3.90" fill="#000"/><rect x="277.80" y="312.54" width="3.90" height="3.90" fill="#000"/><rect x="285.43" y="313.48" width="3.90" height="3.90" fill="#000"/><rect x="300.69" y="313.73" width="3.90" height="3.90" fill="#000"/><rect x="315.95" y="312.98" width="3.90" height="3.90" fill="#000"/><rect x="348.65" y="313.73" width="3.90" height="3.90" fill="#000"/><polyline points="241.60,376.90 272.12,315.43 279.75,314.49 287.38,315.43 302.64,315.68 317.90,314.93 350.60,315.68" fill="none" stroke="#000" stroke-width="1.0"/><path d="M241.60 374.40L244.10 379.02L239.10 379.02Z" fill="#000"/><path d="M272.12 312.93L274.62 317.55L269.62 317.55Z" fill="#000"/><path d="M279.75 311.99L282.25 316.61L277.25 316.61Z" fill="#000"/><path d="M287.38 312.93L289.88 317.55L284.88 317.55Z" fill="#000"/><path d="M302.64 313.18L305.14 317.80L300.14 317.80Z" fill="#000"/><path d="M317.90 312.43L320.40 317.05L315.40 317.05Z" fill="#000"/><path d="M350.60 313.18L353.10 317.80L348.10 317.80Z" fill="#000"/><line x1="306.70" y1="358.40" x2="324.00" y2="358.40" stroke="#000" stroke-width="0.9"/><path d="M314.90 355.80L317.50 358.40L314.90 361.00L312.30 358.40Z" fill="#000"/><text x="325.90" y="360.40" class="lg">8x10e5</text><line x1="306.70" y1="366.00" x2="324.00" y2="366.00" stroke="#000" stroke-width="0.9"/><rect x="312.95" y="364.05" width="3.90" height="3.90" fill="#000"/><text x="325.90" y="368.00" class="lg">4x10e6</text><line x1="306.70" y1="373.10" x2="324.00" y2="373.10" stroke="#000" stroke-width="0.9"/><path d="M314.90 370.60L317.40 375.23L312.40 375.23Z" fill="#000"/><text x="325.90" y="375.10" class="lg">1x10e7</text></g>
<g><line x1="405.30" y1="8.40" x2="405.30" y2="71.60" stroke="#a2a2a2" stroke-width="0.9"/><line x1="405.30" y1="71.50" x2="511.40" y2="71.50" stroke="#8c8c8c" stroke-width="1.0"/><line x1="403.70" y1="71.60" x2="406.30" y2="71.60" stroke="#999" stroke-width="0.8"/><text x="401.00" y="73.10" text-anchor="end" class="t">0</text><line x1="403.70" y1="58.96" x2="406.30" y2="58.96" stroke="#999" stroke-width="0.8"/><text x="401.00" y="60.46" text-anchor="end" class="t">20</text><line x1="403.70" y1="46.32" x2="406.30" y2="46.32" stroke="#999" stroke-width="0.8"/><text x="401.00" y="47.82" text-anchor="end" class="t">40</text><line x1="403.70" y1="33.68" x2="406.30" y2="33.68" stroke="#999" stroke-width="0.8"/><text x="401.00" y="35.18" text-anchor="end" class="t">60</text><line x1="403.70" y1="21.04" x2="406.30" y2="21.04" stroke="#999" stroke-width="0.8"/><text x="401.00" y="22.54" text-anchor="end" class="t">80</text><line x1="403.70" y1="8.40" x2="406.30" y2="8.40" stroke="#999" stroke-width="0.8"/><text x="401.00" y="9.90" text-anchor="end" class="t">100</text><line x1="405.30" y1="70.50" x2="405.30" y2="73.10" stroke="#999" stroke-width="0.8"/><text x="405.30" y="83.70" text-anchor="middle" class="t">0</text><line x1="426.52" y1="70.50" x2="426.52" y2="73.10" stroke="#999" stroke-width="0.8"/><text x="426.52" y="83.70" text-anchor="middle" class="t">20</text><line x1="447.74" y1="70.50" x2="447.74" y2="73.10" stroke="#999" stroke-width="0.8"/><text x="447.74" y="83.70" text-anchor="middle" class="t">40</text><line x1="468.96" y1="70.50" x2="468.96" y2="73.10" stroke="#999" stroke-width="0.8"/><text x="468.96" y="83.70" text-anchor="middle" class="t">60</text><line x1="490.18" y1="70.50" x2="490.18" y2="73.10" stroke="#999" stroke-width="0.8"/><text x="490.18" y="83.70" text-anchor="middle" class="t">80</text><line x1="511.40" y1="70.50" x2="511.40" y2="73.10" stroke="#999" stroke-width="0.8"/><text x="511.40" y="83.70" text-anchor="middle" class="t">100</text><text x="458.35" y="97.00" text-anchor="middle" class="xl">Days after transplantation</text><text transform="translate(382.90,39.50) rotate(-90)" text-anchor="middle" class="xl">% donor (CD45.1+) cells</text><polyline points="405.30,71.60 435.01,70.97 442.44,66.73 449.86,49.23 464.72,33.68 479.57,25.46 511.40,18.51" fill="none" stroke="#000" stroke-width="1.0"/><path d="M405.30 69.00L407.90 71.60L405.30 74.20L402.70 71.60Z" fill="#000"/><path d="M435.01 68.37L437.61 70.97L435.01 73.57L432.41 70.97Z" fill="#000"/><path d="M442.44 64.13L445.04 66.73L442.44 69.33L439.83 66.73Z" fill="#000"/><path d="M449.86 46.63L452.46 49.23L449.86 51.83L447.26 49.23Z" fill="#000"/><path d="M464.72 31.08L467.32 33.68L464.72 36.28L462.12 33.68Z" fill="#000"/><path d="M479.57 22.86L482.17 25.46L479.57 28.06L476.97 25.46Z" fill="#000"/><path d="M511.40 15.91L514.00 18.51L511.40 21.11L508.80 18.51Z" fill="#000"/><line x1="449.86" y1="43.48" x2="449.86" y2="39.37" stroke="#7a7a7a" stroke-width="1.15"/><line x1="447.56" y1="39.37" x2="452.16" y2="39.37" stroke="#333" stroke-width="1.0"/><line x1="464.72" y1="32.16" x2="464.72" y2="30.52" stroke="#7a7a7a" stroke-width="1.15"/><line x1="462.42" y1="30.52" x2="467.02" y2="30.52" stroke="#333" stroke-width="1.0"/><polyline points="405.30,71.60 435.01,68.00 442.44,60.35 449.86,43.48 464.72,32.16 479.57,24.52 511.40,18.51" fill="none" stroke="#000" stroke-width="1.0"/><rect x="403.35" y="69.65" width="3.90" height="3.90" fill="#000"/><rect x="433.06" y="66.05" width="3.90" height="3.90" fill="#000"/><rect x="440.49" y="58.40" width="3.90" height="3.90" fill="#000"/><rect x="447.91" y="41.53" width="3.90" height="3.90" fill="#000"/><rect x="462.77" y="30.21" width="3.90" height="3.90" fill="#000"/><rect x="477.62" y="22.57" width="3.90" height="3.90" fill="#000"/><rect x="509.45" y="16.56" width="3.90" height="3.90" fill="#000"/><line x1="435.01" y1="65.41" x2="435.01" y2="61.49" stroke="#7a7a7a" stroke-width="1.15"/><line x1="432.71" y1="61.49" x2="437.31" y2="61.49" stroke="#333" stroke-width="1.0"/><line x1="442.44" y1="50.11" x2="442.44" y2="44.42" stroke="#7a7a7a" stroke-width="1.15"/><line x1="440.13" y1="44.42" x2="444.74" y2="44.42" stroke="#333" stroke-width="1.0"/><line x1="449.86" y1="34.06" x2="449.86" y2="31.78" stroke="#7a7a7a" stroke-width="1.15"/><line x1="447.56" y1="31.78" x2="452.16" y2="31.78" stroke="#333" stroke-width="1.0"/><polyline points="405.30,71.60 435.01,65.41 442.44,50.11 449.86,34.06 464.72,23.32 479.57,19.65 511.40,15.67" fill="none" stroke="#000" stroke-width="1.0"/><path d="M405.30 69.10L407.80 73.72L402.80 73.72Z" fill="#000"/><path d="M435.01 62.91L437.51 67.53L432.51 67.53Z" fill="#000"/><path d="M442.44 47.61L444.94 52.24L439.94 52.24Z" fill="#000"/><path d="M449.86 31.56L452.36 36.18L447.36 36.18Z" fill="#000"/><path d="M464.72 20.82L467.22 25.44L462.22 25.44Z" fill="#000"/><path d="M479.57 17.15L482.07 21.77L477.07 21.77Z" fill="#000"/><path d="M511.40 13.17L513.90 17.79L508.90 17.79Z" fill="#000"/><line x1="457.50" y1="51.80" x2="474.80" y2="51.80" stroke="#000" stroke-width="0.9"/><path d="M465.70 49.20L468.30 51.80L465.70 54.40L463.10 51.80Z" fill="#000"/><text x="476.70" y="53.80" class="lg">400 KTLS</text><line x1="457.50" y1="59.50" x2="474.80" y2="59.50" stroke="#000" stroke-width="0.9"/><rect x="463.75" y="57.55" width="3.90" height="3.90" fill="#000"/><text x="476.70" y="61.50" class="lg">1000 KTLS</text><line x1="457.50" y1="66.90" x2="474.80" y2="66.90" stroke="#000" stroke-width="0.9"/><path d="M465.70 64.40L468.20 69.03L463.20 69.03Z" fill="#000"/><text x="476.70" y="68.90" class="lg">5000 KTLS</text></g>
<g><line x1="405.20" y1="110.90" x2="405.20" y2="173.50" stroke="#a2a2a2" stroke-width="0.9"/><line x1="405.20" y1="173.50" x2="510.20" y2="173.50" stroke="#8c8c8c" stroke-width="1.0"/><line x1="403.60" y1="173.50" x2="406.20" y2="173.50" stroke="#999" stroke-width="0.8"/><text x="400.90" y="175.00" text-anchor="end" class="t">0</text><line x1="403.60" y1="160.98" x2="406.20" y2="160.98" stroke="#999" stroke-width="0.8"/><text x="400.90" y="162.48" text-anchor="end" class="t">20</text><line x1="403.60" y1="148.46" x2="406.20" y2="148.46" stroke="#999" stroke-width="0.8"/><text x="400.90" y="149.96" text-anchor="end" class="t">40</text><line x1="403.60" y1="135.94" x2="406.20" y2="135.94" stroke="#999" stroke-width="0.8"/><text x="400.90" y="137.44" text-anchor="end" class="t">60</text><line x1="403.60" y1="123.42" x2="406.20" y2="123.42" stroke="#999" stroke-width="0.8"/><text x="400.90" y="124.92" text-anchor="end" class="t">80</text><line x1="403.60" y1="110.90" x2="406.20" y2="110.90" stroke="#999" stroke-width="0.8"/><text x="400.90" y="112.40" text-anchor="end" class="t">100</text><line x1="405.20" y1="172.50" x2="405.20" y2="175.10" stroke="#999" stroke-width="0.8"/><text x="405.20" y="185.60" text-anchor="middle" class="t">0</text><line x1="426.20" y1="172.50" x2="426.20" y2="175.10" stroke="#999" stroke-width="0.8"/><text x="426.20" y="185.60" text-anchor="middle" class="t">20</text><line x1="447.20" y1="172.50" x2="447.20" y2="175.10" stroke="#999" stroke-width="0.8"/><text x="447.20" y="185.60" text-anchor="middle" class="t">40</text><line x1="468.20" y1="172.50" x2="468.20" y2="175.10" stroke="#999" stroke-width="0.8"/><text x="468.20" y="185.60" text-anchor="middle" class="t">60</text><line x1="489.20" y1="172.50" x2="489.20" y2="175.10" stroke="#999" stroke-width="0.8"/><text x="489.20" y="185.60" text-anchor="middle" class="t">80</text><line x1="510.20" y1="172.50" x2="510.20" y2="175.10" stroke="#999" stroke-width="0.8"/><text x="510.20" y="185.60" text-anchor="middle" class="t">100</text><text x="457.70" y="198.90" text-anchor="middle" class="xl">Days after transplantation</text><text transform="translate(382.80,141.70) rotate(-90)" text-anchor="middle" class="xl">% donor (CD45.1+) cells</text><polyline points="405.20,173.50 434.60,171.94 441.95,172.25 449.30,160.04 464.00,148.46 478.70,139.38 510.20,131.87" fill="none" stroke="#000" stroke-width="1.0"/><path d="M405.20 170.90L407.80 173.50L405.20 176.10L402.60 173.50Z" fill="#000"/><path d="M434.60 169.34L437.20 171.94L434.60 174.53L432.00 171.94Z" fill="#000"/><path d="M441.95 169.65L444.55 172.25L441.95 174.85L439.35 172.25Z" fill="#000"/><path d="M449.30 157.44L451.90 160.04L449.30 162.64L446.70 160.04Z" fill="#000"/><path d="M464.00 145.86L466.60 148.46L464.00 151.06L461.40 148.46Z" fill="#000"/><path d="M478.70 136.78L481.30 139.38L478.70 141.98L476.10 139.38Z" fill="#000"/><path d="M510.20 129.27L512.80 131.87L510.20 134.47L507.60 131.87Z" fill="#000"/><polyline points="405.20,173.50 434.60,171.94 441.95,167.49 449.30,151.28 464.00,143.14 478.70,136.25 510.20,129.55" fill="none" stroke="#000" stroke-width="1.0"/><rect x="403.25" y="171.55" width="3.90" height="3.90" fill="#000"/><rect x="432.65" y="169.99" width="3.90" height="3.90" fill="#000"/><rect x="440.00" y="165.54" width="3.90" height="3.90" fill="#000"/><rect x="447.35" y="149.33" width="3.90" height="3.90" fill="#000"/><rect x="462.05" y="141.19" width="3.90" height="3.90" fill="#000"/><rect x="476.75" y="134.30" width="3.90" height="3.90" fill="#000"/><rect x="508.25" y="127.60" width="3.90" height="3.90" fill="#000"/><line x1="434.60" y1="169.12" x2="434.60" y2="166.80" stroke="#7a7a7a" stroke-width="1.15"/><line x1="432.30" y1="166.80" x2="436.90" y2="166.80" stroke="#333" stroke-width="1.0"/><line x1="441.95" y1="157.60" x2="441.95" y2="151.59" stroke="#7a7a7a" stroke-width="1.15"/><line x1="439.65" y1="151.59" x2="444.25" y2="151.59" stroke="#333" stroke-width="1.0"/><line x1="449.30" y1="145.64" x2="449.30" y2="143.14" stroke="#7a7a7a" stroke-width="1.15"/><line x1="447.00" y1="143.14" x2="451.60" y2="143.14" stroke="#333" stroke-width="1.0"/><line x1="464.00" y1="136.32" x2="464.00" y2="131.06" stroke="#7a7a7a" stroke-width="1.15"/><line x1="461.70" y1="131.06" x2="466.30" y2="131.06" stroke="#333" stroke-width="1.0"/><line x1="478.70" y1="129.49" x2="478.70" y2="126.36" stroke="#7a7a7a" stroke-width="1.15"/><line x1="476.40" y1="126.36" x2="481.00" y2="126.36" stroke="#333" stroke-width="1.0"/><line x1="510.20" y1="125.61" x2="510.20" y2="124.17" stroke="#7a7a7a" stroke-width="1.15"/><line x1="507.90" y1="124.17" x2="512.50" y2="124.17" stroke="#333" stroke-width="1.0"/><polyline points="405.20,173.50 434.60,169.12 441.95,157.60 449.30,145.64 464.00,136.32 478.70,129.49 510.20,125.61" fill="none" stroke="#000" stroke-width="1.0"/><path d="M405.20 171.00L407.70 175.62L402.70 175.62Z" fill="#000"/><path d="M434.60 166.62L437.10 171.24L432.10 171.24Z" fill="#000"/><path d="M441.95 155.10L444.45 159.72L439.45 159.72Z" fill="#000"/><path d="M449.30 143.14L451.80 147.77L446.80 147.77Z" fill="#000"/><path d="M464.00 133.82L466.50 138.44L461.50 138.44Z" fill="#000"/><path d="M478.70 126.99L481.20 131.62L476.20 131.62Z" fill="#000"/><path d="M510.20 123.11L512.70 127.74L507.70 127.74Z" fill="#000"/><line x1="459.30" y1="154.80" x2="476.60" y2="154.80" stroke="#000" stroke-width="0.9"/><path d="M467.50 152.20L470.10 154.80L467.50 157.40L464.90 154.80Z" fill="#000"/><text x="478.50" y="156.80" class="lg">400 KTLS</text><line x1="459.30" y1="162.20" x2="476.60" y2="162.20" stroke="#000" stroke-width="0.9"/><rect x="465.55" y="160.25" width="3.90" height="3.90" fill="#000"/><text x="478.50" y="164.20" class="lg">1000 KTLS</text><line x1="459.30" y1="169.60" x2="476.60" y2="169.60" stroke="#000" stroke-width="0.9"/><path d="M467.50 167.10L470.00 171.72L465.00 171.72Z" fill="#000"/><text x="478.50" y="171.60" class="lg">5000 KTLS</text></g>
<g><line x1="405.20" y1="212.50" x2="405.20" y2="276.00" stroke="#a2a2a2" stroke-width="0.9"/><line x1="405.20" y1="276.50" x2="510.40" y2="276.50" stroke="#8c8c8c" stroke-width="1.0"/><line x1="403.60" y1="276.00" x2="406.20" y2="276.00" stroke="#999" stroke-width="0.8"/><text x="400.90" y="277.50" text-anchor="end" class="t">0</text><line x1="403.60" y1="263.30" x2="406.20" y2="263.30" stroke="#999" stroke-width="0.8"/><text x="400.90" y="264.80" text-anchor="end" class="t">20</text><line x1="403.60" y1="250.60" x2="406.20" y2="250.60" stroke="#999" stroke-width="0.8"/><text x="400.90" y="252.10" text-anchor="end" class="t">40</text><line x1="403.60" y1="237.90" x2="406.20" y2="237.90" stroke="#999" stroke-width="0.8"/><text x="400.90" y="239.40" text-anchor="end" class="t">60</text><line x1="403.60" y1="225.20" x2="406.20" y2="225.20" stroke="#999" stroke-width="0.8"/><text x="400.90" y="226.70" text-anchor="end" class="t">80</text><line x1="403.60" y1="212.50" x2="406.20" y2="212.50" stroke="#999" stroke-width="0.8"/><text x="400.90" y="214.00" text-anchor="end" class="t">100</text><line x1="405.20" y1="275.50" x2="405.20" y2="278.10" stroke="#999" stroke-width="0.8"/><text x="405.20" y="288.10" text-anchor="middle" class="t">0</text><line x1="426.24" y1="275.50" x2="426.24" y2="278.10" stroke="#999" stroke-width="0.8"/><text x="426.24" y="288.10" text-anchor="middle" class="t">20</text><line x1="447.28" y1="275.50" x2="447.28" y2="278.10" stroke="#999" stroke-width="0.8"/><text x="447.28" y="288.10" text-anchor="middle" class="t">40</text><line x1="468.32" y1="275.50" x2="468.32" y2="278.10" stroke="#999" stroke-width="0.8"/><text x="468.32" y="288.10" text-anchor="middle" class="t">60</text><line x1="489.36" y1="275.50" x2="489.36" y2="278.10" stroke="#999" stroke-width="0.8"/><text x="489.36" y="288.10" text-anchor="middle" class="t">80</text><line x1="510.40" y1="275.50" x2="510.40" y2="278.10" stroke="#999" stroke-width="0.8"/><text x="510.40" y="288.10" text-anchor="middle" class="t">100</text><text x="457.80" y="301.40" text-anchor="middle" class="xl">Days after transplantation</text><text transform="translate(382.80,244.15) rotate(-90)" text-anchor="middle" class="xl">% donor (CD45.1+) cells</text><polyline points="405.20,276.00 434.66,214.41 442.02,212.50 449.38,212.50 464.11,212.50 478.84,212.50 510.40,212.50" fill="none" stroke="#000" stroke-width="1.0"/><path d="M405.20 273.40L407.80 276.00L405.20 278.60L402.60 276.00Z" fill="#000"/><path d="M434.66 211.81L437.26 214.41L434.66 217.00L432.06 214.41Z" fill="#000"/><path d="M442.02 209.90L444.62 212.50L442.02 215.10L439.42 212.50Z" fill="#000"/><path d="M449.38 209.90L451.98 212.50L449.38 215.10L446.78 212.50Z" fill="#000"/><path d="M464.11 209.90L466.71 212.50L464.11 215.10L461.51 212.50Z" fill="#000"/><path d="M478.84 209.90L481.44 212.50L478.84 215.10L476.24 212.50Z" fill="#000"/><path d="M510.40 209.90L513.00 212.50L510.40 215.10L507.80 212.50Z" fill="#000"/><polyline points="405.20,276.00 434.66,212.50 442.02,212.50 449.38,212.50 464.11,212.50 478.84,212.50 510.40,212.50" fill="none" stroke="#000" stroke-width="1.0"/><rect x="403.25" y="274.05" width="3.90" height="3.90" fill="#000"/><rect x="432.71" y="210.55" width="3.90" height="3.90" fill="#000"/><rect x="440.07" y="210.55" width="3.90" height="3.90" fill="#000"/><rect x="447.43" y="210.55" width="3.90" height="3.90" fill="#000"/><rect x="462.16" y="210.55" width="3.90" height="3.90" fill="#000"/><rect x="476.89" y="210.55" width="3.90" height="3.90" fill="#000"/><rect x="508.45" y="210.55" width="3.90" height="3.90" fill="#000"/><polyline points="405.20,276.00 434.66,214.41 442.02,212.50 449.38,212.50 464.11,212.50 478.84,212.50 510.40,212.50" fill="none" stroke="#000" stroke-width="1.0"/><path d="M405.20 273.50L407.70 278.12L402.70 278.12Z" fill="#000"/><path d="M434.66 211.91L437.16 216.53L432.16 216.53Z" fill="#000"/><path d="M442.02 210.00L444.52 214.62L439.52 214.62Z" fill="#000"/><path d="M449.38 210.00L451.88 214.62L446.88 214.62Z" fill="#000"/><path d="M464.11 210.00L466.61 214.62L461.61 214.62Z" fill="#000"/><path d="M478.84 210.00L481.34 214.62L476.34 214.62Z" fill="#000"/><path d="M510.40 210.00L512.90 214.62L507.90 214.62Z" fill="#000"/><line x1="455.70" y1="256.10" x2="473.00" y2="256.10" stroke="#000" stroke-width="0.9"/><path d="M463.90 253.50L466.50 256.10L463.90 258.70L461.30 256.10Z" fill="#000"/><text x="474.90" y="258.10" class="lg">400 KTLS</text><line x1="455.70" y1="263.80" x2="473.00" y2="263.80" stroke="#000" stroke-width="0.9"/><rect x="461.95" y="261.85" width="3.90" height="3.90" fill="#000"/><text x="474.90" y="265.80" class="lg">1000 KTLS</text><line x1="455.70" y1="271.30" x2="473.00" y2="271.30" stroke="#000" stroke-width="0.9"/><path d="M463.90 268.80L466.40 273.43L461.40 273.43Z" fill="#000"/><text x="474.90" y="273.30" class="lg">5000 KTLS</text></g>
<g><line x1="404.90" y1="314.50" x2="404.90" y2="377.00" stroke="#a2a2a2" stroke-width="0.9"/><line x1="404.90" y1="377.50" x2="512.80" y2="377.50" stroke="#8c8c8c" stroke-width="1.0"/><line x1="403.30" y1="377.00" x2="405.90" y2="377.00" stroke="#999" stroke-width="0.8"/><text x="400.60" y="378.50" text-anchor="end" class="t">0</text><line x1="403.30" y1="364.50" x2="405.90" y2="364.50" stroke="#999" stroke-width="0.8"/><text x="400.60" y="366.00" text-anchor="end" class="t">20</text><line x1="403.30" y1="352.00" x2="405.90" y2="352.00" stroke="#999" stroke-width="0.8"/><text x="400.60" y="353.50" text-anchor="end" class="t">40</text><line x1="403.30" y1="339.50" x2="405.90" y2="339.50" stroke="#999" stroke-width="0.8"/><text x="400.60" y="341.00" text-anchor="end" class="t">60</text><line x1="403.30" y1="327.00" x2="405.90" y2="327.00" stroke="#999" stroke-width="0.8"/><text x="400.60" y="328.50" text-anchor="end" class="t">80</text><line x1="403.30" y1="314.50" x2="405.90" y2="314.50" stroke="#999" stroke-width="0.8"/><text x="400.60" y="316.00" text-anchor="end" class="t">100</text><line x1="404.90" y1="376.50" x2="404.90" y2="379.10" stroke="#999" stroke-width="0.8"/><text x="404.90" y="389.10" text-anchor="middle" class="t">0</text><line x1="426.48" y1="376.50" x2="426.48" y2="379.10" stroke="#999" stroke-width="0.8"/><text x="426.48" y="389.10" text-anchor="middle" class="t">20</text><line x1="448.06" y1="376.50" x2="448.06" y2="379.10" stroke="#999" stroke-width="0.8"/><text x="448.06" y="389.10" text-anchor="middle" class="t">40</text><line x1="469.64" y1="376.50" x2="469.64" y2="379.10" stroke="#999" stroke-width="0.8"/><text x="469.64" y="389.10" text-anchor="middle" class="t">60</text><line x1="491.22" y1="376.50" x2="491.22" y2="379.10" stroke="#999" stroke-width="0.8"/><text x="491.22" y="389.10" text-anchor="middle" class="t">80</text><line x1="512.80" y1="376.50" x2="512.80" y2="379.10" stroke="#999" stroke-width="0.8"/><text x="512.80" y="389.10" text-anchor="middle" class="t">100</text><text x="458.85" y="402.40" text-anchor="middle" class="xl">Days after transplantation</text><text transform="translate(382.50,345.65) rotate(-90)" text-anchor="middle" class="xl">% donor (CD45.1+) cells</text><polyline points="404.90,377.00 435.11,315.75 442.66,316.19 450.22,315.75 465.32,314.50 480.43,317.00 512.80,316.38" fill="none" stroke="#000" stroke-width="1.0"/><path d="M404.90 374.40L407.50 377.00L404.90 379.60L402.30 377.00Z" fill="#000"/><path d="M435.11 313.15L437.71 315.75L435.11 318.35L432.51 315.75Z" fill="#000"/><path d="M442.66 313.59L445.26 316.19L442.66 318.79L440.06 316.19Z" fill="#000"/><path d="M450.22 313.15L452.82 315.75L450.22 318.35L447.62 315.75Z" fill="#000"/><path d="M465.32 311.90L467.92 314.50L465.32 317.10L462.72 314.50Z" fill="#000"/><path d="M480.43 314.40L483.03 317.00L480.43 319.60L477.83 317.00Z" fill="#000"/><path d="M512.80 313.77L515.40 316.38L512.80 318.98L510.20 316.38Z" fill="#000"/><polyline points="404.90,377.00 435.11,315.75 442.66,316.19 450.22,316.38 465.32,314.50 480.43,316.38 512.80,314.50" fill="none" stroke="#000" stroke-width="1.0"/><rect x="402.95" y="375.05" width="3.90" height="3.90" fill="#000"/><rect x="433.16" y="313.80" width="3.90" height="3.90" fill="#000"/><rect x="440.71" y="314.24" width="3.90" height="3.90" fill="#000"/><rect x="448.27" y="314.43" width="3.90" height="3.90" fill="#000"/><rect x="463.37" y="312.55" width="3.90" height="3.90" fill="#000"/><rect x="478.48" y="314.43" width="3.90" height="3.90" fill="#000"/><rect x="510.85" y="312.55" width="3.90" height="3.90" fill="#000"/><polyline points="404.90,377.00 435.11,315.75 442.66,316.19 450.22,315.12 465.32,314.50 480.43,318.25 512.80,318.50" fill="none" stroke="#000" stroke-width="1.0"/><path d="M404.90 374.50L407.40 379.12L402.40 379.12Z" fill="#000"/><path d="M435.11 313.25L437.61 317.88L432.61 317.88Z" fill="#000"/><path d="M442.66 313.69L445.16 318.31L440.16 318.31Z" fill="#000"/><path d="M450.22 312.62L452.72 317.25L447.72 317.25Z" fill="#000"/><path d="M465.32 312.00L467.82 316.62L462.82 316.62Z" fill="#000"/><path d="M480.43 315.75L482.93 320.38L477.93 320.38Z" fill="#000"/><path d="M512.80 316.00L515.30 320.62L510.30 320.62Z" fill="#000"/><line x1="455.90" y1="356.10" x2="473.20" y2="356.10" stroke="#000" stroke-width="0.9"/><path d="M464.10 353.50L466.70 356.10L464.10 358.70L461.50 356.10Z" fill="#000"/><text x="475.10" y="358.10" class="lg">400 KTLS</text><line x1="455.90" y1="363.80" x2="473.20" y2="363.80" stroke="#000" stroke-width="0.9"/><rect x="462.15" y="361.85" width="3.90" height="3.90" fill="#000"/><text x="475.10" y="365.80" class="lg">1000 KTLS</text><line x1="455.90" y1="371.60" x2="473.20" y2="371.60" stroke="#000" stroke-width="0.9"/><path d="M464.10 369.10L466.60 373.73L461.60 373.73Z" fill="#000"/><text x="475.10" y="373.60" class="lg">5000 KTLS</text></g>
<text x="3.2" y="41.20" class="rl">CD4<tspan dx="-0.3" dy="-3.3" font-size="7.4px">+</tspan></text>
<text x="3.2" y="143.40" class="rl">CD8<tspan dx="-0.3" dy="-3.3" font-size="7.4px">+</tspan></text>
<text x="3.2" y="244.80" class="rl">B cells</text>
<text x="3.2" y="336.50" class="rl">Myeloid</text>
<text x="130.75" y="423.6" text-anchor="middle" class="rl">Allogeneic TCD BM</text>
<text x="293.90" y="423.6" text-anchor="middle" class="rl">Congenic TCD BM</text>
<text x="460.70" y="423.6" text-anchor="middle" class="rl">Congenic KTLS</text>
</svg>
</body></html>
